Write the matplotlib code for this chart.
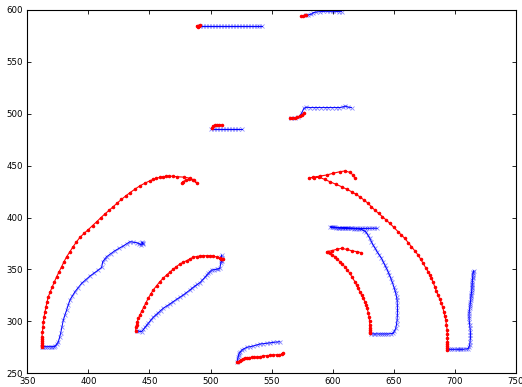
import matplotlib.pyplot as plt

# tracked paths, red part then blue part (data units)
outer_left_red_x = [476.3, 477.5, 479.5, 482, 485.5, 488.6, 486.5, 483, 478, 472.2, 469, 466, 463.5, 461.2,
                    458.3, 455.5, 453, 450.4, 446, 442, 438, 434, 430.5, 427, 423.6, 420.3, 417, 413.5,
                    410, 406.8, 403.4, 400, 396.5, 393.1, 390.2, 387.5, 384.8, 382.2, 380, 378, 376,
                    374, 372.2, 370.5, 368.8, 367.2, 366.2, 365.3, 364.5, 363.7, 363.2, 362.8, 362.4,
                    362, 361.9, 361.9, 361.8, 361.8, 361.8, 361.8]
outer_left_red_y = [433, 434.5, 436, 437, 436, 433.6, 436, 438, 439, 439.4, 439.8, 440, 439.8, 439.4,
                    438.7, 437.8, 436.8, 435.5, 433, 430.5, 427.3, 424, 420.8, 417.5, 414, 410.5, 407, 403.5,
                    399.7, 396, 392.3, 388.5, 384.8, 381, 376.5, 372, 367, 362.3, 357.4, 352.5, 347.8,
                    343, 338.2, 333.5, 328.6, 323.8, 319, 314, 309.3, 304.5, 299.8, 295, 290,
                    285.3, 283, 281, 279, 277.5, 276.3, 275.6]
outer_left_blue_x = [361.8, 363, 364.5, 366, 367.5, 369, 370.5, 372, 372.7, 374, 375.4, 376.4, 377.3,
                     378.4, 379.5, 380.8, 382.2, 383.5, 384.9, 386.9, 389, 391.7, 394.5, 397.9, 401.3,
                     404.7, 408.1, 410.9, 411.7, 413.3, 414.9, 418.3, 421.7, 425.1, 428.5, 431.2, 434,
                     436.8, 439.5, 441.5, 443, 444.4, 444, 444.5, 444.2]
outer_left_blue_y = [275.6, 275.5, 275.7, 275.5, 275.7, 275.5, 275.7, 275.6, 276.5, 278, 280.4, 284.5, 288.5,
                     295, 301.3, 306.2, 311, 315.8, 320.6, 324.6, 328.6, 332.6, 336.7, 340.2, 343.7,
                     346.6, 349.5, 352.1, 357.5, 359.9, 362.3, 365.2, 368.1, 370.4, 372.6, 374.7, 376.8,
                     376.3, 375.8, 375, 374, 375.2, 376.5, 374.5, 375.5]

inner_left_red_x = [510.3, 509.5, 508.5, 507.6, 505, 502.2, 499.5, 496.7, 494, 491.3, 488.5, 485.8, 483.1,
                    480.4, 477.6, 474.9, 472.1, 469.4, 466.7, 464, 461.2, 458.5, 455.8, 453.1, 451, 449,
                    447.2, 445.5, 443.8, 442.2, 441, 440, 439.4, 438.9, 438.7]
inner_left_red_y = [359.8, 360.3, 360.5, 360.8, 362, 363, 363.2, 363.3, 363.2, 363, 362.5, 361.8, 360.2,
                    358.5, 357, 355.3, 352.8, 350.2, 347.5, 344.7, 341.5, 338.3, 334.3, 330.3, 326.3, 322.3,
                    318.2, 314.2, 310.2, 306.2, 303, 299.7, 297, 294.3, 291]
inner_left_blue_x = [439.5, 441.5, 443.6, 445, 446.3, 447.6, 449, 451, 453.1, 455.1, 457.2, 459.2, 461.2,
                     464, 466.7, 469.4, 472.2, 474.9, 477.6, 480.3, 483.1, 485.1, 487.2, 489.2, 491.3,
                     493.3, 495.4, 496.7, 498.1, 499.4, 500.8, 502.8, 504.9, 506.2, 507.6, 508.4, 508.7,
                     509, 509, 508.6, 509.2]
inner_left_blue_y = [291, 290.5, 290.1, 292.2, 294.3, 296.2, 298.2, 301.1, 304, 306.2, 308.4, 310.5, 312.6,
                     314.7, 316.8, 319, 321.3, 323.3, 325.4, 327.8, 330.3, 332.2, 334.1, 335.7, 337.3,
                     339.9, 342.5, 344.4, 346.3, 347.9, 349.5, 349.8, 350.2, 350.7, 351.2, 356, 358.4,
                     360.8, 364, 362, 358]

bottom_red_x = [559.4, 558.1, 556, 554, 551.2, 548.5, 545.8, 543.1, 540.3, 537.6, 535.6, 533.6, 531.5,
                529.5, 528, 526.7, 525.3, 524, 522.8, 521.8]
bottom_red_y = [269.9, 268.3, 268, 267.9, 267.6, 267.3, 267, 266.7, 266, 265.4, 265.4, 265.4, 265.2,
                265, 264.6, 264.1, 263, 261.9, 261.2, 260.6]
bottom_blue_x = [521.8, 522.2, 522.6, 523, 523.4, 524.4, 525.4, 527.4, 529.5, 532.2, 534.9, 537.6, 540.3,
                 543, 545.8, 548.5, 551.2, 554, 556.7]
bottom_blue_y = [261.2, 263.6, 266, 267.6, 269.3, 270.8, 272.4, 273.7, 275, 275.6, 276.3, 277.2, 278.2,
                 278.5, 278.9, 279.3, 279.8, 280.1, 280.4]

top_left_red_x = [491.5, 490.5, 489.5, 488.5, 489.9]
top_left_red_y = [585.5, 584.2, 585, 584.6, 583.8]
top_left_blue_x = [491.3, 493.7, 496.2, 498.6, 501, 503.5, 505.9, 508.4, 510.8, 513.2, 515.7, 518.1,
                   520.6, 523, 525.4, 527.9, 530.3, 532.8, 535.2, 537.6, 540, 541.7]
top_left_blue_y = [584.9, 584.9, 584.9, 584.9, 584.9, 584.9, 584.9, 584.9, 584.9, 584.9, 584.9, 584.9,
                   584.9, 584.9, 584.9, 584.9, 584.9, 584.9, 584.9, 584.9, 584.9, 584.9]

top_mid_red_x = [574.4, 575.8, 577, 578]
top_mid_red_y = [594.5, 594.5, 594.8, 595]
top_mid_blue_x = [578, 579.9, 582.6, 583.9, 586.7, 589.4, 592, 594.9, 597.6, 600.3, 603, 605, 607.2]
top_mid_blue_y = [595, 595.2, 596.1, 597.4, 598.1, 598.4, 598.6, 598.7, 598.7, 598.7, 598.6, 598.5, 598.4]

mid_red_x = [509, 507, 505, 503.5, 502, 500.8]
mid_red_y = [489.2, 489.5, 489.5, 489, 488, 486]
mid_blue_x = [500, 502.5, 505, 507.5, 510, 512.5, 515, 517.5, 520, 522.5, 525.4]
mid_blue_y = [485, 485, 485, 485, 485, 485, 485, 485, 485, 485, 485]

mid_right_red_x = [564.9, 566.5, 569, 571, 573.1, 575, 576.4]
mid_right_red_y = [495.7, 496, 496.2, 497, 497.9, 499, 500.5]
mid_right_blue_x = [566, 569, 571.7, 574.5, 576.4, 578.5, 581.5, 584.5, 587.5, 590.5, 593.5, 596.5,
                    599.5, 602.5, 605.5, 608, 610, 612.5, 615.4]
mid_right_blue_y = [495.7, 496, 496.6, 500.5, 505.3, 506.3, 506, 506, 506, 506, 506, 506,
                    506, 506, 506, 506.5, 507.4, 506.5, 505.9]

inner_right_red_x = [623.5, 619.5, 615.4, 611.3, 607.2, 603.1, 599, 595, 596.3, 597.6, 599.6, 601.7,
                     603.8, 605.8, 607.8, 609.9, 612, 614, 616, 618.1, 619.5, 620.8, 622.2, 623.6,
                     625, 626.3, 627.3, 628.2, 629, 629.8, 630.1, 630.3, 630.3, 630.3, 630.3, 630.3]
inner_right_red_y = [366.2, 367.2, 368.1, 369.4, 370.4, 369.4, 368.1, 367.2, 366.4, 365.6, 364, 362.4,
                     360, 357.5, 355.1, 352.7, 349.5, 346.3, 342.3, 338.3, 335, 331.8, 328.6, 325.4,
                     322.2, 319, 315.8, 312.6, 308.5, 304.5, 300.5, 296.5, 294, 292, 290, 288.5]
inner_right_blue_x = [631.7, 633.4, 635, 636.8, 638.5, 640.2, 642, 643.7, 645.3, 647.4, 649.4, 650.5,
                      651.6, 652.2, 652.7, 652.9, 653, 652.9, 652.7, 652.2, 651.6, 650.8, 650, 648.8,
                      647.5, 646.4, 645.3, 644, 642.6, 641.3, 639.9, 638.1, 636.3, 634.7, 633, 631.7,
                      630.3, 628.7, 627.1, 625.3, 623.5, 621.3, 619, 617, 615, 612.5, 610, 607.5,
                      605, 603, 601, 599.5, 598, 600, 602, 604, 606, 608, 610, 612, 614, 616,
                      618, 620, 622, 624, 626, 628, 630, 632, 634, 636.4]
inner_right_blue_y = [287.9, 287.9, 287.9, 287.9, 287.9, 287.9, 287.9, 287.9, 287.9, 288.2, 288.5, 290.9,
                      293.3, 297.3, 301.3, 306.1, 310.9, 315.7, 320.6, 323.8, 327, 330.2, 333.4, 337.5,
                      341.5, 344.7, 347.9, 351.1, 354.3, 357.5, 360.8, 364, 367.2, 370.4, 373.6, 376.8,
                      380, 383.2, 386.4, 387.5, 388.7, 389, 389.3, 389.4, 389.5, 389.8, 390, 390,
                      390, 390.2, 390.5, 390.8, 391, 390.8, 390.6, 390.3, 390.2, 390, 390, 390, 389.9, 389.8,
                      389.7, 389.6, 389.5, 389.5, 389.5, 389.6, 389.6, 389.7, 389.8, 389.6]

outer_right_red_x = [618.1, 616.7, 614, 609.9, 605.8, 600.3, 594.9, 589.4, 583.9, 580.7, 584.5, 589,
                     593.5, 597.6, 602.4, 607.2, 611.3, 615.4, 618.8, 622.1, 625.5, 628.9, 631.6, 634.4,
                     637.5, 640.7, 643.7, 646.7, 650.1, 653.5, 656.2, 659, 661.7, 664.4, 667.2, 669.9,
                     672, 674, 676, 678.1, 679.5, 680.8, 682.2, 683.5, 684.8, 686.2, 687.6, 689,
                     690, 690.9, 691.7, 692.5, 693.1, 693.6, 693.8, 693.9, 693.9, 693.9, 693.9, 693.9, 693.9]
outer_right_red_y = [437.8, 441, 443.6, 444.9, 444.2, 442.7, 441, 440, 438.8, 438.4, 438.6, 438.8,
                     436.8, 434.6, 432.2, 429.8, 427.4, 425, 422.6, 420.1, 417, 413.8, 410.5, 407.3,
                     404.1, 400.9, 397.7, 394.5, 390.5, 386.4, 383.2, 380, 376, 372, 368, 363.9,
                     359.9, 355.9, 351.9, 347.9, 344.7, 341.5, 337.5, 333.4, 329.4, 325.4, 321.4, 317.4,
                     313.4, 309.4, 305.4, 301.4, 296.5, 291.7, 288, 284, 280.4, 278, 276, 274, 272.5]
outer_right_blue_x = [694.4, 696.2, 698, 699.6, 701.3, 702.6, 704, 705.3, 706.7, 708.7, 710.8, 711.5,
                      712.1, 712.4, 712.7, 712.7, 712.7, 712.4, 712.1, 711.8, 711.6, 711.6, 711.6, 711.8,
                      712.1, 712.3, 712.5, 712.7, 712.9, 713, 713.2, 713.3, 713.5, 713.6, 713.8, 713.9,
                      714, 714.1, 714.2, 714.3, 714.3, 714.5, 714.6, 714.7, 714.8, 715.1, 715.4]
outer_right_blue_y = [273.1, 273.1, 273.1, 273.1, 273.1, 273.1, 273.1, 273.1, 273.1, 273.4, 273.7, 275.5,
                      277.3, 280.5, 283.7, 286.9, 290.1, 293.3, 296.5, 299.8, 303, 305.4, 307.8, 310.2,
                      312.6, 314.6, 316.5, 318.5, 320.6, 322.3, 324, 325.5, 327, 328.5, 330, 331.7,
                      333.4, 335, 336.5, 338.2, 339.9, 341.5, 343, 344.7, 346.3, 347.6, 348.9]

red_paths = [(outer_left_red_x, outer_left_red_y), (inner_left_red_x, inner_left_red_y),
             (bottom_red_x, bottom_red_y), (top_left_red_x, top_left_red_y),
             (top_mid_red_x, top_mid_red_y), (mid_red_x, mid_red_y),
             (mid_right_red_x, mid_right_red_y), (inner_right_red_x, inner_right_red_y),
             (outer_right_red_x, outer_right_red_y)]
blue_paths = [(outer_left_blue_x, outer_left_blue_y), (inner_left_blue_x, inner_left_blue_y),
              (bottom_blue_x, bottom_blue_y), (top_left_blue_x, top_left_blue_y),
              (top_mid_blue_x, top_mid_blue_y), (mid_blue_x, mid_blue_y),
              (mid_right_blue_x, mid_right_blue_y), (inner_right_blue_x, inner_right_blue_y),
              (outer_right_blue_x, outer_right_blue_y)]

fig = plt.figure(figsize=(5.22, 3.87), dpi=100)
ax = fig.add_axes([27.3 / 522, 1 - 373.3 / 387, (516 - 27.3) / 522, (373.3 - 10) / 387])

for bx, by in blue_paths:
    ax.plot(bx, by, color='b', marker='x', ms=3.4, mew=0.6, mec=(0, 0, 1, 0.45), lw=0.7)
for rx, ry in red_paths:
    ax.plot(rx, ry, color='r', marker='.', ms=3.1, lw=0.8)

ax.set_xlim(350, 750)
ax.set_ylim(250, 600)
ax.set_xticks(range(350, 751, 50))
ax.set_yticks(range(250, 601, 50))
ax.tick_params(direction='in', top=True, right=True, length=3, width=0.6, labelsize=6.2, pad=3)
for s in ax.spines.values():
    s.set_linewidth(0.8)

plt.savefig('out.png')
